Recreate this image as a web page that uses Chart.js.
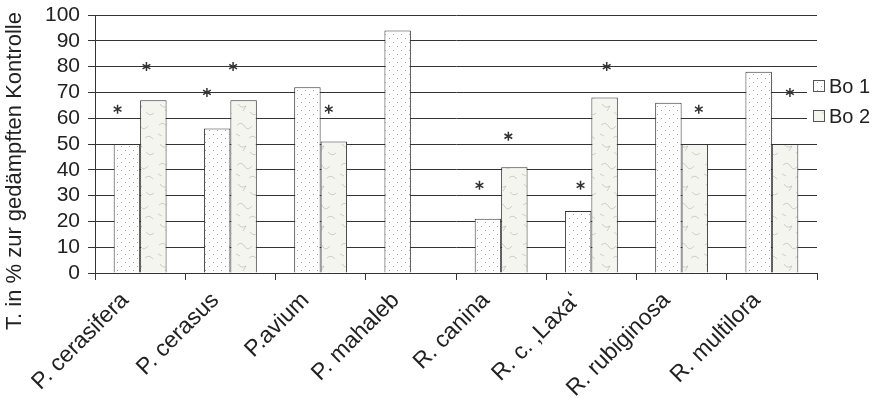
<!DOCTYPE html>
<html>
<head>
<meta charset="utf-8">
<script src="https://cdn.jsdelivr.net/npm/chart.js@4.4.1/dist/chart.umd.min.js"></script>
<style>
  html, body { margin: 0; padding: 0; background: #fff; }
  #wrap { width: 883px; height: 408px; position: relative; }
</style>
</head>
<body>
<div id="wrap"><canvas id="chart"></canvas></div>
<script>
// data
const categories = ['P. cerasifera', 'P. cerasus', 'P.avium', 'P. mahaleb',
                    'R. canina', 'R. c. \u201aLaxa\u2018', 'R. rubiginosa', 'R. multilora'];
const bo1 = [50, 56, 72, 94, 21, 24, 66, 78];
const bo2 = [67, 67, 51, null, 41, 68, 50, 50];
const seriesNames = ['Bo 1', 'Bo 2'];
const yTitle = 'T. in % zur gedämpften Kontrolle';

// significance marks (*): x in category units (0 = first category centre), y in %
const starX = [-0.25, 0.07, 0.74, 1.03, 2.09, 3.76, 4.08, 4.88, 5.17, 6.19, 7.2];
const starY = [63.5, 80, 70, 80, 63.5, 34, 53, 34, 80, 63.5, 70];

const yMin = 0, yMax = 100, yStep = 10;

const FONT = "'Liberation Sans', Arial, sans-serif";
Chart.defaults.font.family = FONT;
Chart.defaults.color = '#222';

// fill textures
function dotPattern() {
    const c = document.createElement('canvas');
    c.width = 8; c.height = 8;
    const g = c.getContext('2d');
    g.fillStyle = '#fff';
    g.fillRect(0, 0, 8, 8);
    g.fillStyle = '#a0a0a0';
    g.fillRect(1, 2, 1, 1);
    g.fillRect(5, 6, 1, 1);
    return g.createPattern(c, 'repeat');
}

function scribblePattern() {
    const c = document.createElement('canvas');
    c.width = 26; c.height = 40;
    const g = c.getContext('2d');
    g.fillStyle = '#f5f5f0';
    g.fillRect(0, 0, 26, 40);
    g.strokeStyle = 'rgba(130,135,125,0.5)';
    g.lineWidth = 0.7;
    g.beginPath();
    g.moveTo(3, 5); g.quadraticCurveTo(8, 1, 11, 7); g.quadraticCurveTo(14, 11, 18, 6);
    g.moveTo(15, 18); g.quadraticCurveTo(19, 14, 23, 19);
    g.moveTo(4, 24); g.quadraticCurveTo(7, 29, 12, 26); g.lineTo(9, 31);
    g.moveTo(16, 32); g.quadraticCurveTo(20, 37, 24, 33);
    g.moveTo(2, 14); g.lineTo(6, 16);
    g.stroke();
    return g.createPattern(c, 'repeat');
}

const fills = [dotPattern(), scribblePattern()];

// asterisks placed through the x / y scales
const starMarks = {
    id: 'starMarks',
    afterDatasetsDraw(chart) {
        const xs = chart.scales.x, ys = chart.scales.y;
        const step = xs.getPixelForValue(1) - xs.getPixelForValue(0);
        const ctx = chart.ctx;
        ctx.save();
        ctx.strokeStyle = '#333';
        ctx.lineWidth = 1.5;
        starX.forEach((v, i) => {
            const px = xs.getPixelForValue(0) + v * step;
            const py = ys.getPixelForValue(starY[i]);
            ctx.beginPath();
            for (let k = 0; k < 3; k++) {
                const a = Math.PI / 2 + k * Math.PI / 3;
                ctx.moveTo(px + 4.5 * Math.cos(a), py + 4.5 * Math.sin(a));
                ctx.lineTo(px - 4.5 * Math.cos(a), py - 4.5 * Math.sin(a));
            }
            ctx.stroke();
        });
        ctx.restore();
    }
};

// rotated y title, set a bit lower than the axis centre as in the figure
const yTitlePlugin = {
    id: 'yTitlePlugin',
    afterDraw(chart) {
        const ctx = chart.ctx;
        ctx.save();
        ctx.translate(15, 171);
        ctx.rotate(-Math.PI / 2);
        ctx.font = '22px ' + FONT;
        ctx.fillStyle = '#222';
        ctx.textAlign = 'center';
        ctx.textBaseline = 'middle';
        ctx.fillText(yTitle, 0, 0);
        ctx.restore();
    }
};

// legend at the right edge, over the grid lines
const sideLegend = {
    id: 'sideLegend',
    afterDraw(chart) {
        const ctx = chart.ctx;
        const x0 = chart.chartArea.right - 4;
        const rows = [86, 116];
        ctx.save();
        rows.forEach((cy, i) => {
            ctx.fillStyle = '#fff';
            ctx.fillRect(x0 - 6, cy - 9, chart.width - x0 + 6, 18);
            ctx.fillStyle = fills[i];
            ctx.fillRect(x0 + 0.5, cy - 5.5, 11, 11);
            ctx.strokeStyle = '#555';
            ctx.lineWidth = 1;
            ctx.strokeRect(x0 + 0.5, cy - 5.5, 11, 11);
            ctx.fillStyle = '#222';
            ctx.font = '20px ' + FONT;
            ctx.textBaseline = 'middle';
            ctx.fillText(seriesNames[i], x0 + 16, cy + 1);
        });
        ctx.restore();
    }
};

new Chart(document.getElementById('chart'), {
    type: 'bar',
    data: {
        labels: categories,
        datasets: [
            {
                label: seriesNames[0],
                data: bo1,
                backgroundColor: fills[0],
                borderColor: '#333',
                borderWidth: 1
            },
            {
                label: seriesNames[1],
                data: bo2,
                backgroundColor: fills[1],
                borderColor: '#333',
                borderWidth: 1
            }
        ]
    },
    options: {
        responsive: true,
        maintainAspectRatio: false,
        animation: false,
        categoryPercentage: 0.586,
        barPercentage: 1,
        layout: { padding: { top: 15, right: 66, left: 0, bottom: 0 } },
        plugins: {
            legend: { display: false },
            tooltip: { enabled: false }
        },
        scales: {
            x: {
                grid: { display: true, drawOnChartArea: false, offset: true, tickLength: 7, color: '#333' },
                border: { color: '#333' },
                ticks: { minRotation: 45, maxRotation: 45, autoSkip: false, font: { size: 23 }, color: '#222', padding: 7, labelOffset: -15 },
                afterFit(s) { s.height = 135; s.paddingLeft = 0; s.paddingRight = 0; }
            },
            y: {
                min: yMin,
                max: yMax,
                ticks: { stepSize: yStep, autoSkip: false, font: { size: 21 }, color: '#222', padding: 8 },
                grid: { color: '#333', tickLength: 7 },
                border: { color: '#333' },
                afterFit(s) { s.width = 95; s.paddingTop = 0; s.paddingBottom = 0; }
            }
        }
    },
    plugins: [starMarks, yTitlePlugin, sideLegend]
});
</script>
</body>
</html>
